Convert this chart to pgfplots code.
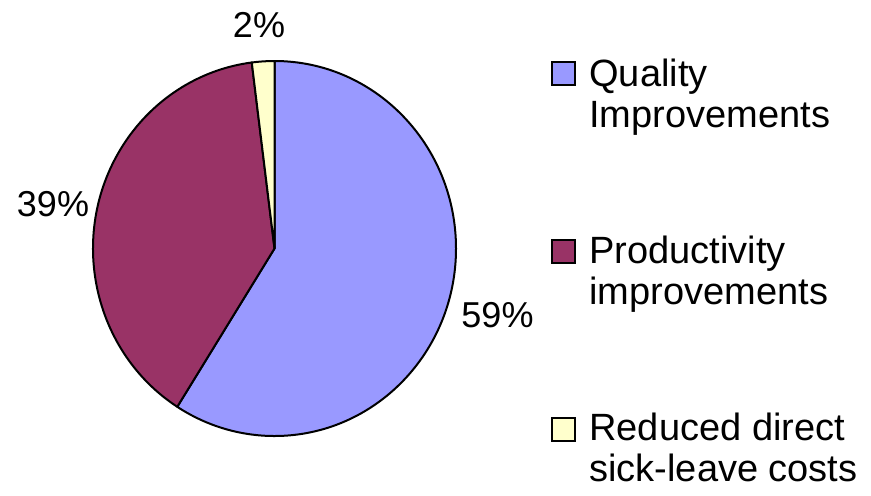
\documentclass[border=0pt]{standalone}
\usepackage{pgfplots}
\pgfplotsset{compat=1.18}
\usepackage{pgfplotstable}
\usetikzlibrary{calc}
\usepackage{fontspec}
\setmainfont{Liberation Sans}

\definecolor{qual}{HTML}{9999FF}
\definecolor{prod}{HTML}{993366}
\definecolor{sick}{HTML}{FFFFCC}

% share in percent, slice colour, label position (x, baseline y)
\pgfplotstableread{
share color lx  ly
59    qual  497.5 168
39    prod  53    279
2     sick  259   458
}\piedata

\begin{document}
\begin{tikzpicture}
\begin{axis}[
  scale only axis,
  width=435.5pt, height=247.5pt,
  xmin=0, xmax=871, ymin=0, ymax=495,
  hide axis, clip=false,
]
\path (axis cs:0,0) rectangle (axis cs:871,495);
\pgfplotsextra{
  \gdef\startang{90}
  \pgfplotstablegetrowsof{\piedata}
  \pgfmathtruncatemacro\lastrow{\pgfplotsretval-1}
  \foreach \i in {0,...,\lastrow} {
    \pgfplotstablegetelem{\i}{share}\of{\piedata}\let\v\pgfplotsretval
    \pgfplotstablegetelem{\i}{color}\of{\piedata}\let\c\pgfplotsretval
    \pgfplotstablegetelem{\i}{lx}\of{\piedata}\let\lx\pgfplotsretval
    \pgfplotstablegetelem{\i}{ly}\of{\piedata}\let\ly\pgfplotsretval
    \pgfmathsetmacro\endang{\startang-3.6*\v}
    \filldraw[fill=\c, draw=black, line width=1pt, line join=round]
      (axis cs:274.5,246.5) -- ++(\startang:90.75pt and 93.75pt)
      arc[start angle=\startang, end angle=\endang,
          x radius=90.75pt, y radius=93.75pt] -- cycle;
    \node[anchor=base, inner sep=0pt, font=\fontsize{18}{20}\selectfont]
      at (axis cs:\lx,\ly) {\v\%};
    \xdef\startang{\endang}
  }
}
% legend
\pgfplotsextra{
  \foreach \c/\yc/\la/\lb/\yb in {
      qual/421.5/Quality/Improvements/409,
      prod/243.5/Productivity/improvements/232,
      sick/66/Reduced direct/sick-leave costs/55} {
    \filldraw[fill=\c, draw=black, line width=1pt]
      ($(axis cs:563.5,\yc)+(-5.75pt,-5.75pt)$) rectangle ++(11.5pt,11.5pt);
    \node[anchor=base west, inner sep=0pt, font=\fontsize{19}{21}\selectfont]
      at (axis cs:589,\yb) {\la};
    \node[anchor=base west, inner sep=0pt, font=\fontsize{19}{21}\selectfont]
      at (axis cs:589,\yb-41.5) {\lb};
  }
}
\end{axis}
\end{tikzpicture}
\end{document}
